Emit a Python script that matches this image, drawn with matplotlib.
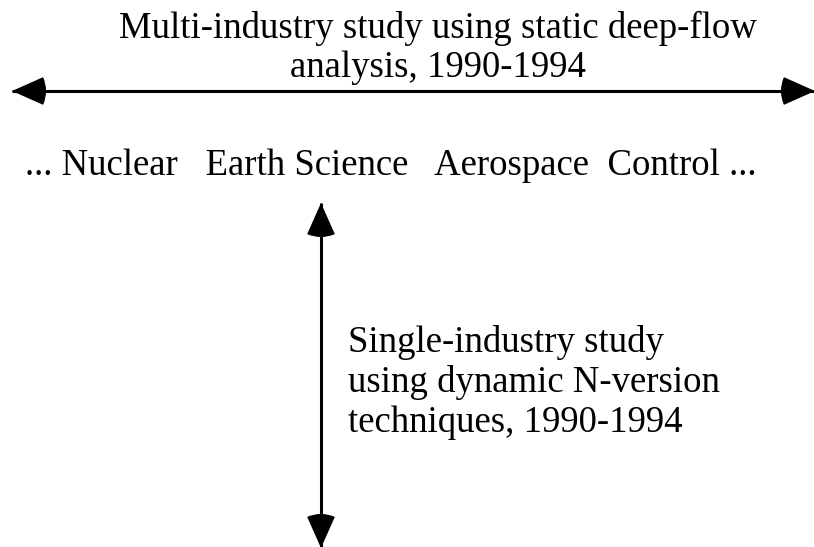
"""Diagram of the two study approaches: multi-industry vs single-industry."""

import matplotlib
matplotlib.use("Agg")
import matplotlib.pyplot as plt
from matplotlib.patches import Wedge

# Text content
multi_study = ["Multi-industry study using static deep-flow", "analysis, 1990-1994"]
industries = ["Nuclear", "Earth Science", "Aerospace", "Control"]
single_study = ["Single-industry study", "using dynamic N-version", "techniques, 1990-1994"]

plt.rcParams["font.family"] = ["Liberation Serif", "DejaVu Serif"]

W, H = 814, 547
fig = plt.figure(figsize=(W / 100, H / 100), dpi=100)
ax = fig.add_axes([0, 0, 1, 1])
ax.set_xlim(0, W)
ax.set_ylim(H, 0)
ax.axis("off")

FS = 26.5
LW = 2.2
HEAD = 34       # arrowhead radius in px
HALF_ANG = 24   # arrowhead half angle, degrees


def head(x, y, angle):
    """Wedge arrowhead with its tip at (x, y); angle points back along the shaft."""
    # axes y is inverted, so flip the angle
    ax.add_patch(Wedge((x, y), HEAD, -angle - HALF_ANG, -angle + HALF_ANG,
                       color="black", lw=0))


def double_arrow(x0, y0, x1, y1):
    ax.plot([x0, x1], [y0, y1], color="black", lw=LW, solid_capstyle="butt")
    if y0 == y1:
        head(x0, y0, 0)
        head(x1, y1, 180)
    else:
        head(x0, y0, -90)
        head(x1, y1, 90)


# horizontal arrow (multi-industry)
double_arrow(12, 91, 815, 91)
for i, line in enumerate(multi_study):
    ax.text(438, 38 + 39 * i, line, fontsize=FS, ha="center", va="baseline")

# industry row
gaps = ["   ", "   ", "  "]
row = "... " + industries[0]
for gap, name in zip(gaps, industries[1:]):
    row += gap + name
row += " ..."
ax.text(25, 175, row, fontsize=FS, ha="left", va="baseline")

# vertical arrow (single-industry)
double_arrow(321, 203, 321, 548)
for i, line in enumerate(single_study):
    ax.text(348, 352 + 40 * i, line, fontsize=FS, ha="left", va="baseline")

fig.savefig("out.png", dpi=100)
